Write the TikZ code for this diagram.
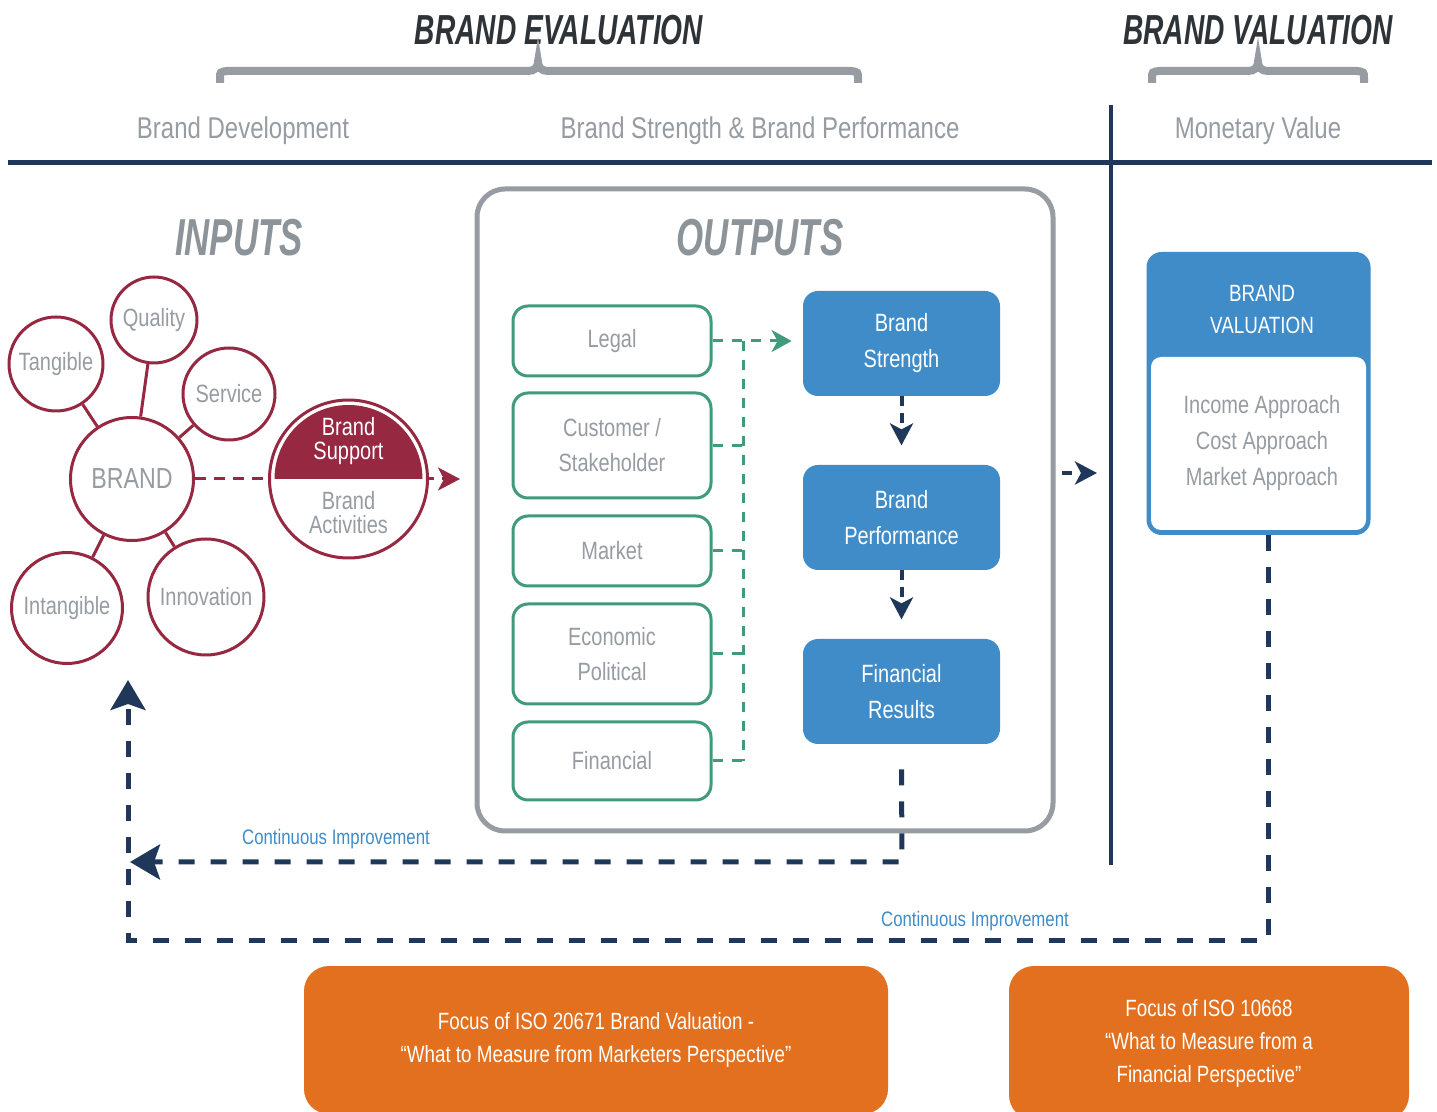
\documentclass[tikz,border=0pt]{standalone}
\usepackage{fontspec}
\setmainfont[FakeStretch=0.8]{Liberation Sans}
\newfontfamily\titlefont[FakeStretch=0.67]{Liberation Sans}
\usetikzlibrary{arrows.meta}
\definecolor{maroon}{RGB}{150,40,65}
\definecolor{tgray}{RGB}{150,156,162}
\definecolor{igray}{RGB}{140,147,153}
\definecolor{tdark}{RGB}{46,51,56}
\definecolor{navy}{RGB}{31,56,90}
\definecolor{gboxc}{RGB}{62,156,124}
\definecolor{bboxc}{RGB}{64,140,200}
\definecolor{orangec}{RGB}{226,112,30}
\definecolor{cgray}{RGB}{150,156,161}
\tikzset{
  circ/.style={circle, draw=maroon, line width=1.5pt, fill=white, inner sep=0pt, text=tgray, font=\fontsize{12.5pt}{15pt}\selectfont},
  mline/.style={maroon, line width=1.5pt},
  mdash/.style={maroon, line width=1.5pt, dash pattern=on 5.5pt off 4pt},
  gbox/.style={draw=gboxc, line width=1.5pt, rounded corners=7.5pt, fill=white, minimum width=99pt, text=tgray, align=center, font=\fontsize{12.5pt}{17.5pt}\selectfont},
  gdash/.style={gboxc, line width=1.5pt, dash pattern=on 5pt off 4.5pt},
  bbox/.style={fill=bboxc, rounded corners=7.5pt, minimum width=98.5pt, minimum height=52.5pt, text=white, align=center, font=\fontsize{12.5pt}{18pt}\selectfont},
  ndash/.style={navy, line width=2pt, dash pattern=on 5pt off 3.5pt},
  bigdash/.style={navy, line width=2.5pt, dash pattern=on 8pt off 8pt},
  subhead/.style={text=tgray, font=\fontsize{15pt}{18pt}\selectfont},
  bigtitle/.style={text=tdark, font=\titlefont\bfseries\itshape\fontsize{21pt}{24pt}\selectfont},
  iotitle/.style={text=igray, font=\titlefont\bfseries\itshape\fontsize{26pt}{30pt}\selectfont},
  brace/.style={cgray, line width=4pt},
  obox/.style={fill=orangec, rounded corners=12.5pt, text=white, align=center, font=\fontsize{11.75pt}{16.5pt}\selectfont},
  cilabel/.style={text=bboxc, font=\fontsize{10.5pt}{12pt}\selectfont},
  suplabel/.style={align=center, inner sep=0pt, font=\fontsize{12.5pt}{12pt}\selectfont},
  smalltip/.tip={Stealth[length=11pt,width=11.5pt,inset=3pt]},
  bigtip/.tip={Stealth[length=15pt,width=17.5pt,inset=3pt]},
}
\begin{document}
\begin{tikzpicture}[x=0.5pt,y=-0.5pt]
\useasboundingbox (0,0) rectangle (1437,1112);
\fill[white] (0,0) rectangle (1437,1112);

% titles
\node[bigtitle] (teval) at (559,30) {BRAND EVALUATION};
\node[bigtitle] (tval) at (1258,30) {BRAND VALUATION};

% braces
\draw[brace] (220,83) -- (220,78) .. controls (220,72) .. (227,71) -- (528,71) .. controls (535,71) and (538,67) .. (538,62) .. controls (538,67) and (541,71) .. (548,71) -- (851,71) .. controls (858,72) .. (858,78) -- (858,83);
\draw[brace] (1152,83) -- (1152,78) .. controls (1152,72) .. (1159,71) -- (1248,71) .. controls (1255,71) and (1258,67) .. (1258,62) .. controls (1258,67) and (1261,71) .. (1268,71) -- (1357,71) .. controls (1364,72) .. (1364,78) -- (1364,83);

% subheads
\node[subhead] (sh1) at (243,131) {Brand Development};
\node[subhead] (sh2) at (760,131) {Brand Strength \& Brand Performance};
\node[subhead] (sh3) at (1258,131) {Monetary Value};

% rules
\draw[navy, line width=2.5pt] (8,163) -- (1432,163);
\draw[navy, line width=2pt] (1111,105) -- (1111,865);

% section titles
\node[iotitle] (inputs) at (239,238) {INPUTS};
\node[iotitle] (outputs) at (760,238) {OUTPUTS};

% outputs container
\node[draw=cgray, line width=2.5pt, rounded corners=14pt, minimum width=288pt, minimum height=321pt] (outbox) at (765,510) {};

% input circles
\node[circ, minimum size=47pt] (tang) at (56,364) {Tangible};
\node[circ, minimum size=43pt] (qual) at (154,320) {Quality};
\node[circ, minimum size=46pt] (serv) at (229,394) {Service};
\node[circ, minimum size=61.5pt, font=\fontsize{14.5pt}{17pt}\selectfont] (brand) at (132,479) {BRAND};
\node[circ, minimum size=55.5pt] (intang) at (67,608) {Intangible};
\node[circ, minimum size=58pt] (innov) at (206,597) {Innovation};
\draw[mline] (brand) -- (tang);
\draw[mline] (brand) -- (qual);
\draw[mline] (brand) -- (serv);
\draw[mline] (brand) -- (intang);
\draw[mline] (brand) -- (innov);

% brand to support dashed arrow
\coordinate (mtip) at (460,479);
\draw[mdash, -{smalltip}] (brand.east) -- (mtip);
\node[circ, minimum size=79pt] (support) at (348.5,479) {};
\begin{scope}
  \clip (support.center) ++(-80,-80) rectangle ++(160,80);
  \fill[maroon] (support.center) circle[radius=37pt];
\end{scope}
\node[suplabel, text=white] (suptxt) at ([yshift=19pt]support.center) {Brand\\Support};
\node[suplabel, text=tgray] (acttxt) at ([yshift=-17pt]support.center) {Brand\\Activities};

% green boxes
\node[gbox, minimum height=35pt] (legal) at (612,341) {Legal};
\node[gbox, minimum height=52.5pt] (cust) at (612,445.5) {Customer /\\Stakeholder};
\node[gbox, minimum height=35pt] (market) at (612,551) {Market};
\node[gbox, minimum height=50pt] (econ) at (612,654) {Economic\\Political};
\node[gbox, minimum height=39pt] (finl) at (612,761) {Financial};

% blue boxes
\node[bbox] (bstr) at (901.5,343.5) {Brand\\Strength};
\node[bbox] (bperf) at (901.5,517.5) {Brand\\Performance};
\node[bbox] (bfin) at (901.5,691.5) {Financial\\Results};

% green connectors
\coordinate (gx) at (743,0);
\draw[gdash, -{Stealth[length=10pt,width=11pt,inset=3pt]}] (legal.east) -- ([xshift=-5.5pt]bstr.west |- legal.east);
\draw[gdash] (legal.east -| gx) -- (finl.east -| gx);
\draw[gdash] (cust.east) -- (cust.east -| gx);
\draw[gdash] (market.east) -- (market.east -| gx);
\draw[gdash] (econ.east) -- (econ.east -| gx);
\draw[gdash] (finl.east) -- (finl.east -| gx);

% navy arrows between blue boxes
\draw[ndash, -{smalltip}] (bstr.south) -- ([yshift=-24.5pt]bstr.south);
\draw[ndash, -{smalltip}] (bperf.south) -- ([yshift=-24.5pt]bperf.south);

% valuation box
\node[fill=bboxc, rounded corners=7.5pt, minimum width=112pt, minimum height=141.5pt] (val) at (1258.5,393.5) {};
\node[fill=white, rounded corners=5pt, minimum width=107.5pt, minimum height=86.5pt] (valin) at (1258.5,443.5) {};
\node[text=tgray, align=center, font=\fontsize{12.5pt}{18pt}\selectfont] (valtxt) at (1262,443.5) {Income Approach\\Cost Approach\\Market Approach};
\node[text=white, align=center, font=\fontsize{11.75pt}{16pt}\selectfont] (valhead) at (1262,310) {BRAND\\VALUATION};

% arrow into valuation
\coordinate (va1) at (1062,473);
\coordinate (va2) at (1097,473);
\draw[navy, line width=2pt, dash pattern=on 5pt off 5pt, -{smalltip}] (va1) -- (va2);

% continuous improvement loops
\coordinate (c1) at (902,862);
\coordinate (c1tip) at (130,862);
\draw[bigdash, -{bigtip}] ([yshift=-12.5pt]bfin.south) -- (c1) -- (c1tip);
\coordinate (c2a) at (1268,940);
\coordinate (c2b) at (128,940);
\coordinate (c2tip) at (128,680);
\draw[bigdash, -{bigtip}] ([xshift=4.75pt]val.south) -- (c2a) -- (c2b) -- (c2tip);
\node[cilabel] (ci1) at (336,839) {Continuous Improvement};
\node[cilabel] (ci2) at (975,921) {Continuous Improvement};

% orange focus boxes
\node[obox, minimum width=292pt, minimum height=74pt] (foc1) at (596,1040) {Focus of ISO 20671 Brand Valuation -\\“What to Measure from Marketers Perspective”};
\node[obox, minimum width=200pt, minimum height=77pt] (foc2) at (1209,1043) {Focus of ISO 10668\\“What to Measure from a\\Financial Perspective”};
\end{tikzpicture}
\end{document}
